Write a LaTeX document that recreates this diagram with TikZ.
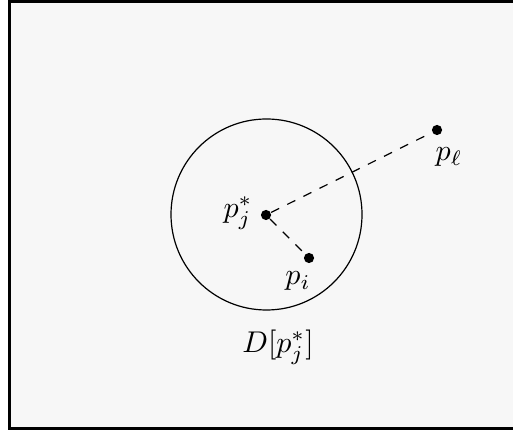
\documentclass[tikz,border=0pt]{standalone}
\begin{document}
\begin{tikzpicture}[x=0.3333pt,y=-0.3333pt,
  pt/.style={circle,fill=black,inner sep=0pt,minimum size=3.4pt},
  lbl/.style={inner sep=0pt,font=\fontsize{10.3}{12}\selectfont},
  link/.style={dashed,line width=0.4pt}]
\useasboundingbox (0,0) rectangle (513,430);
\fill[white] (0,0) rectangle (513,430);
\fill[black!3] (9.5,1.5) rectangle (520,428.5);
\begin{scope}
\clip (0,0) rectangle (513,430);
\draw[line width=0.8pt] (9.5,1.5) rectangle (520,428.5);
\end{scope}
\draw[line width=0.4pt] (266.5,214.5) circle[radius=95.5];
\node[pt] (pj) at (266,215) {};
\node[pt] (pi) at (309,258) {};
\node[pt] (pl) at (437,130) {};
\draw[link] (pj) -- (pl);
\draw[link] (pj) -- (pi);
\node[lbl] (lpj) at (238,213) {$p_j^*$};
\node[lbl] (lpi) at (298,281) {$p_i$};
\node[lbl] (lpl) at (449,157) {$p_\ell$};
\node[lbl] (lD) at (278,347) {$D[p_j^*]$};
\end{tikzpicture}
\end{document}
